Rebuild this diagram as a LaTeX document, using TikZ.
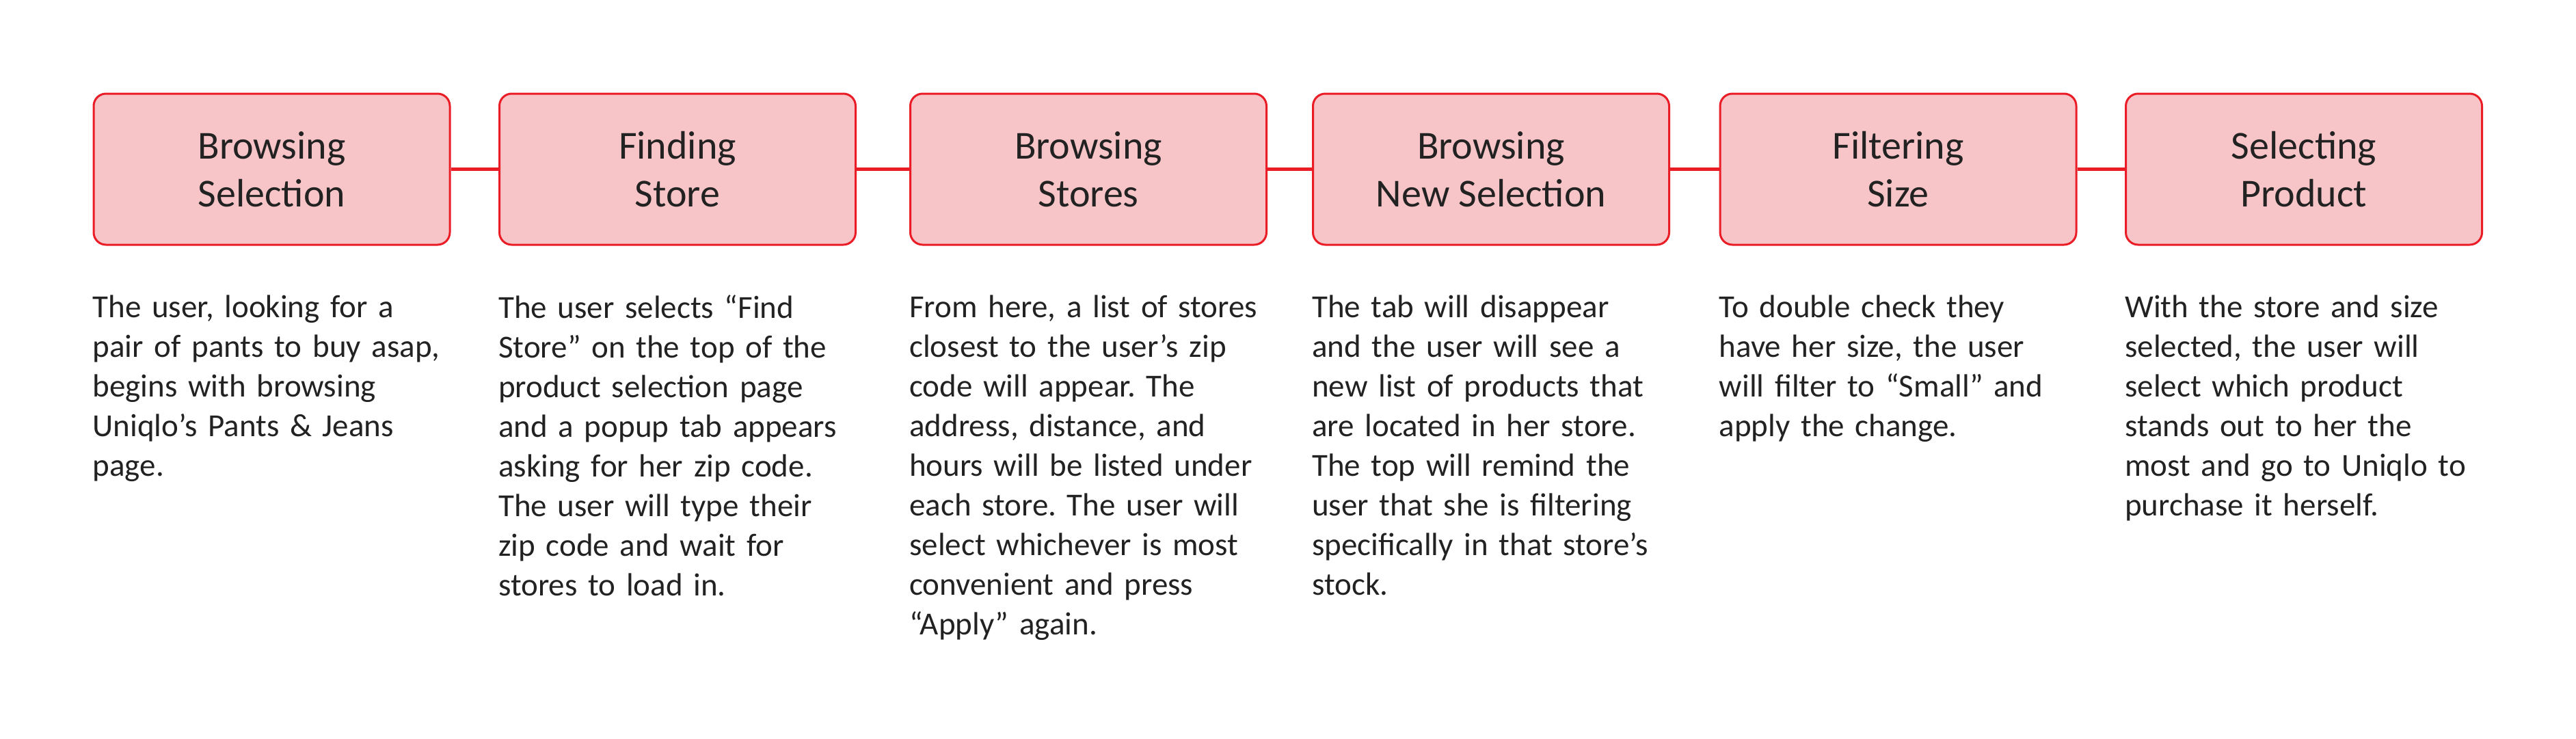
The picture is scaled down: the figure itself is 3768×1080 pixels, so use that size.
\documentclass[tikz,border=0pt]{standalone}
\usepackage{fontspec}
\setmainfont{Carlito}
\usetikzlibrary{positioning}
\frenchspacing
\definecolor{stagered}{RGB}{234,28,38}
\definecolor{stagefill}{RGB}{247,197,199}
\definecolor{inkgray}{RGB}{34,34,34}
\tikzset{
  stage/.style={draw=stagered,fill=stagefill,line width=3pt,rounded corners=18pt,
    minimum width=521pt,minimum height=221pt,align=center,text=inkgray,
    font=\fontsize{58}{70}\selectfont},
  link/.style={draw=stagered,line width=4.5pt},
  note/.style={anchor=north west,inner sep=0pt,text width=620pt,align=left,
    text=inkgray,font=\fontsize{47}{58}\selectfont}
}

\begin{document}
\begin{tikzpicture}[x=1pt,y=-1pt]
  \useasboundingbox (0,0) rectangle (3768,1080);
  % journey stages
  \node[stage] (s1) at (397.5,247.5) {Browsing\\Selection};
  \node[stage] (s2) at (991,247.5) {Finding\\Store};
  \node[stage] (s3) at (1592,247.5) {Browsing\\Stores};
  \node[stage] (s4) at (2181,247.5) {Browsing\\New Selection};
  \node[stage] (s5) at (2776.5,247.5) {Filtering\\Size};
  \node[stage] (s6) at (3370,247.5) {Selecting\\Product};
  \draw[link] (s1.east)--(s2.west); \draw[link] (s2.east)--(s3.west); \draw[link] (s3.east)--(s4.west);
  \draw[link] (s4.east)--(s5.west); \draw[link] (s5.east)--(s6.west);
  % descriptions
  \node[note] (n1) at ([yshift=-72pt]s1.south west) {The user, looking for a\\pair of pants to buy asap,\\begins with browsing\\Uniqlo’s Pants \& Jeans\\page.};
  \node[note] (n2) at ([yshift=-72pt]s2.south west) {The user selects “Find\\Store” on the top of the\\product selection page\\and a popup tab appears\\asking for her zip code.\\The user will type their\\zip code and wait for\\stores to load in.};
  \node[note] (n3) at ([yshift=-72pt]s3.south west) {From here, a list of stores\\closest to the user’s zip\\code will appear. The\\address, distance, and\\hours will be listed under\\each store. The user will\\select whichever is most\\convenient and press\\“Apply” again.};
  \node[note] (n4) at ([yshift=-72pt]s4.south west) {The tab will disappear\\and the user will see a\\new list of products that\\are located in her store.\\The top will remind the\\user that she is filtering\\specifically in that store’s\\stock.};
  \node[note] (n5) at ([yshift=-72pt]s5.south west) {To double check they\\have her size, the user\\will filter to “Small” and\\apply the change.};
  \node[note] (n6) at ([yshift=-72pt]s6.south west) {With the store and size\\selected, the user will\\select which product\\stands out to her the\\most and go to Uniqlo to\\purchase it herself.};
\end{tikzpicture}
\end{document}
